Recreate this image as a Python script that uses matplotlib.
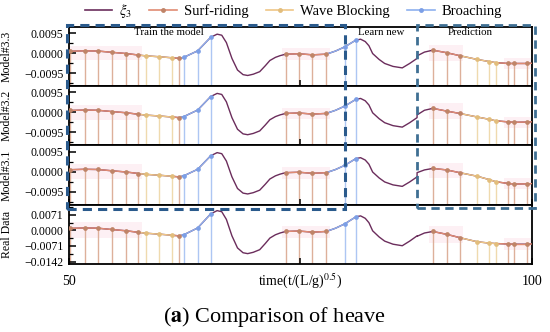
import matplotlib.pyplot as plt
import numpy as np
from matplotlib.lines import Line2D
from matplotlib.patches import Rectangle
from matplotlib.ticker import FixedLocator, MultipleLocator, FuncFormatter
from matplotlib.transforms import blended_transform_factory

plt.rcParams['font.family'] = ['Liberation Serif', 'DejaVu Serif']
plt.rcParams['mathtext.fontset'] = 'stix'

# heave curve, same for every panel up to the end of the "learn new" window
t_train = [50.0, 50.1, 51.7, 53.1, 54.6, 56.2, 57.5, 58.3, 59.7, 61.1, 61.9, 62.4,
           63.9, 65.3, 66.0, 66.5, 67.0, 67.6, 68.2, 68.8, 69.3, 69.9, 70.6, 71.2,
           71.7, 72.3, 72.8, 73.4, 74.8, 76.3, 77.8, 78.8, 79.8, 81.0, 81.5, 82.0,
           82.4, 82.8, 83.5, 84.1, 85.0, 86.0, 86.8, 87.6]
heave_train = [0.0008, 0.0009, 0.0011, 0.0010, 0.0004, -0.0002, -0.0009, -0.0013,
               -0.0017, -0.0022, -0.0025, -0.0020, 0.0011, 0.0075, 0.0090, 0.0085,
               0.0050, -0.0025, -0.0080, -0.0102, -0.0106, -0.0100, -0.0088, -0.0060,
               -0.0035, -0.0020, -0.0012, -0.0005, -0.0003, -0.0008, -0.0005, 0.0010,
               0.0030, 0.0062, 0.0066, 0.0055, 0.0035, -0.0002, -0.0030, -0.0049,
               -0.0063, -0.0070, -0.0049, -0.0025]

# prediction window: each model gives its own curve
t_pred = [87.6, 88.4, 89.3, 90.8, 92.2, 94.1, 95.4, 96.1, 97.4, 98.1, 99.5, 100.0]
heave_m33 = [-0.0013, 0.0005, 0.0014, 0.0002, -0.0012, -0.0030, -0.0040, -0.0045,
             -0.0049, -0.0049, -0.0049, -0.0048]
heave_m32 = [-0.0012, 0.0010, 0.0019, 0.0006, -0.0005, -0.0022, -0.0033, -0.0040,
             -0.0045, -0.0047, -0.0046, -0.0045]
heave_m31 = [-0.0005, 0.0008, 0.0015, 0.0008, -0.0005, -0.0022, -0.0038, -0.0048,
             -0.0056, -0.0059, -0.0058, -0.0057]
heave_real = [-0.0027, -0.0012, -0.0005, -0.0018, -0.0033, -0.0052, -0.0058, -0.0060,
              -0.0062, -0.0063, -0.0063, -0.0062]

# sampled points and their motion state (S surf-riding, W wave blocking, B broaching)
mark_t = [50.1, 51.7, 53.1, 54.6, 56.2, 57.5, 58.3, 59.7, 61.1, 61.9, 62.4, 63.9, 65.3,
          73.4, 74.8, 76.3, 77.8, 79.8, 81.0,
          89.3, 90.8, 92.2, 94.1, 95.4, 96.1, 97.4, 98.1, 99.5]
mark_class = ['S', 'S', 'S', 'S', 'S', 'S', 'W', 'W', 'W', 'S', 'B', 'B', 'B',
              'S', 'S', 'S', 'S', 'B', 'B',
              'S', 'S', 'S', 'W', 'W', 'W', 'S', 'S', 'S']

panel_names = ['Model#3.3', 'Model#3.2', 'Model#3.1', 'Real Data']
panel_pred = [heave_m33, heave_m32, heave_m31, heave_real]

XI_COLOR = '#6b2d5c'
line_colors = {'S': '#e08b73', 'W': '#efc686', 'B': '#8db0ef'}
dot_colors = {'S': '#bf8468', 'W': '#e2bd7c', 'B': '#7c9fe6'}
stem_colors = {'S': '#ddb09a', 'W': '#efdaae', 'B': '#adc6f3'}


def minus(v, pos):
    if abs(v) < 1e-9:
        return '0.0000'
    return f"{v:.4f}".replace('-', '\u2212')


fig, axes = plt.subplots(4, 1, sharex=True, figsize=(5.5, 3.32), dpi=100)
fig.subplots_adjust(left=0.1255, right=0.967, top=0.9187, bottom=0.205, hspace=0)

for i, ax in enumerate(axes):
    t = np.array(t_train + t_pred)
    y = np.array(heave_train + panel_pred[i])
    if i < 3:
        ylo, yhi = -0.0157, 0.0124
        ticks = [0.0095, 0.0, -0.0095]
        minor = 0.00475
    else:
        ylo, yhi = -0.0153, 0.0117
        ticks = [0.0071, 0.0, -0.0071, -0.0142]
        minor = 0.00355
    mt = np.array(mark_t)
    my = np.interp(mt, t, y)

    # faint pink bands behind runs of surf-riding points
    run = []
    for k in range(len(mt) + 1):
        if k < len(mt) and mark_class[k] == 'S' and (not run or mt[k] - mt[run[-1]] < 3):
            run.append(k)
            continue
        if len(run) > 1:
            x0, x1 = mt[run[0]] - 0.4, mt[run[-1]] + 0.4
            seg = y[(t >= x0) & (t <= x1)]
            ax.fill_between([x0, x1], [seg.min() - 0.0025] * 2, [seg.max() + 0.0025] * 2,
                            color='#fdf0f4', lw=0, zorder=0)
        run = [k] if k < len(mt) and mark_class[k] == 'S' else []

    ax.plot(t, y, color=XI_COLOR, lw=1.0, zorder=2)

    # coloured pieces of the curve between neighbouring sampled points
    for k in range(len(mt) - 1):
        if mt[k + 1] - mt[k] < 3:
            sel = (t >= mt[k]) & (t <= mt[k + 1])
            ax.plot(t[sel], y[sel], color=line_colors[mark_class[k + 1]], lw=1.0, zorder=3)
    sel = t >= mt[-1]
    ax.plot(t[sel], y[sel], color=line_colors[mark_class[-1]], lw=1.0, zorder=3)

    for k in range(len(mt)):
        c = mark_class[k]
        ax.vlines(mt[k], ylo, my[k], color=stem_colors[c], lw=1.0, zorder=1)
        ax.plot(mt[k], my[k], 'o', ms=3.4, color=dot_colors[c], mec='none', zorder=4)

    ax.set_ylim(ylo, yhi)
    ax.set_xlim(50, 100)
    ax.yaxis.set_major_locator(FixedLocator(ticks))
    ax.yaxis.set_minor_locator(MultipleLocator(minor))
    ax.yaxis.set_major_formatter(FuncFormatter(minus))
    ax.tick_params(axis='y', which='major', direction='in', length=5, width=1.1,
                   labelsize=8.5, pad=4)
    ax.tick_params(axis='y', which='minor', direction='in', length=3, width=0.9)
    ax.tick_params(axis='x', which='major', direction='in', length=4, width=1.1,
                   labelsize=10, pad=8)
    for s in ax.spines.values():
        s.set_linewidth(1.3)
    ax.set_ylabel(panel_names[i], fontsize=8.5)
    ax.yaxis.set_label_coords(-0.121, 0.5)

axes[-1].set_xticks([50, 75, 100])
axes[-1].set_xticklabels(['50', '', '100'])
axes[-1].set_xlabel('time(t/(L/g)$^{0.5}$)', fontsize=10, labelpad=-12)

top = axes[0]
top.text(60.8, 0.9, 'Train the model', transform=blended_transform_factory(top.transData, top.transAxes),
         ha='center', va='center', fontsize=7.8)
top.text(83.7, 0.9, 'Learn new', transform=blended_transform_factory(top.transData, top.transAxes),
         ha='center', va='center', fontsize=7.8)
top.text(93.3, 0.9, 'Prediction', transform=blended_transform_factory(top.transData, top.transAxes),
         ha='center', va='center', fontsize=7.8)

# dashed boxes spanning the stacked panels
tr = blended_transform_factory(top.transData, fig.transFigure)
fig.add_artist(Rectangle((49.8, 1 - 209 / 332), 30.0, (209 - 25) / 332, transform=tr,
                         fill=False, ec='#2a5a8c', lw=2.2, ls=(0, (3, 2)), clip_on=False))
fig.add_artist(Rectangle((87.6, 1 - 208 / 332), 12.7, (208 - 25) / 332, transform=tr,
                         fill=False, ec='#3f6f93', lw=2.0, ls=(0, (3, 2)), clip_on=False))

handles = [
    Line2D([], [], color=XI_COLOR, lw=1.2),
    Line2D([], [], color=line_colors['S'], lw=1.2, marker='o', ms=3.5, mfc=dot_colors['S'], mec='none'),
    Line2D([], [], color=line_colors['W'], lw=1.2, marker='o', ms=3.5, mfc=dot_colors['W'], mec='none'),
    Line2D([], [], color=line_colors['B'], lw=1.2, marker='o', ms=3.5, mfc=dot_colors['B'], mec='none'),
]
fig.legend(handles, [r'$\xi_3$', 'Surf-riding', 'Wave Blocking', 'Broaching'],
           loc='center', bbox_to_anchor=(0.533, 0.968), ncol=4, frameon=False,
           fontsize=10.5, handlelength=1.9, handletextpad=0.45, columnspacing=1.2,
           numpoints=1)

fig.text(0.499, 0.045, r'($\mathbf{a}$) Comparison of heave', ha='center', va='center', fontsize=16)

fig.savefig('out.png', dpi=100)
